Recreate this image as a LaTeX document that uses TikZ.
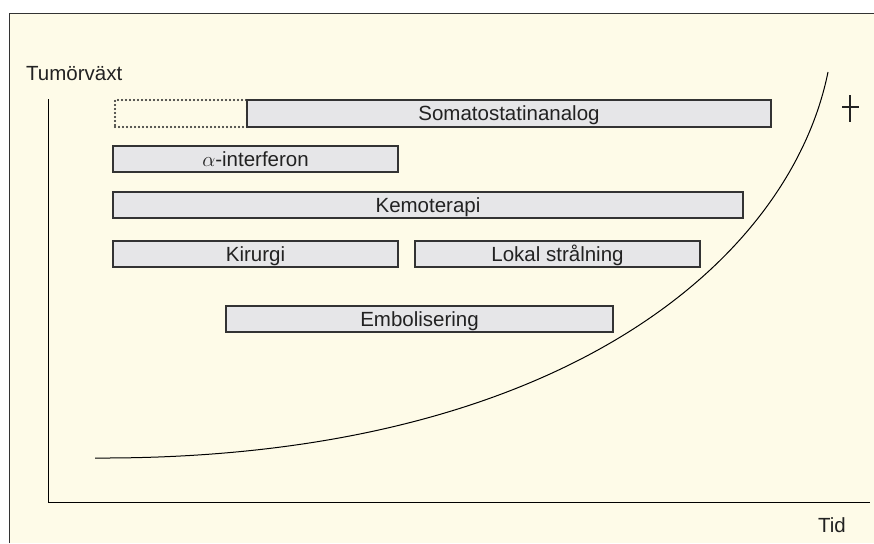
\documentclass[tikz,border=0pt]{standalone}
\usepackage{fontspec}
\setmainfont{Liberation Sans}
\definecolor{bgcream}{HTML}{FEFBE8}
\definecolor{boxgray}{HTML}{E6E6E8}
\definecolor{edge}{HTML}{333333}
\definecolor{ink}{HTML}{222222}
\begin{document}
\begin{tikzpicture}[x=1pt,y=-1pt,
  bar/.style={draw=edge,line width=1.3pt,fill=boxgray,inner sep=0pt,text=ink,text height=14.5pt,text depth=0pt,font=\fontsize{20.5}{23}\selectfont},
  lbl/.style={text=ink,font=\fontsize{20.5}{23}\selectfont,inner sep=0pt}]
\useasboundingbox (0,0) rectangle (874,543);
\fill[white] (0,0) rectangle (874,543);
\fill[bgcream] (9,14) rectangle (874,543);
\draw[edge,line width=1pt] (9,543) -- (9,14) -- (874,14);
% axes
\coordinate (ytop) at (48,99);
\coordinate (orig) at (48,502);
\coordinate (xend) at (870,502);
\draw[black,line width=1pt] (ytop) -- (orig) -- (xend);
\node[lbl,anchor=west] (ylab) at (26,74) {Tumörväxt};
\node[lbl,anchor=east] (xlab) at (846,525) {Tid};
% curve
\coordinate (c0) at (95,458);
\coordinate (c1) at (828,72);
\draw[black,line width=1pt] (c0) .. controls (560,460) and (790,260) .. (c1);
% dagger
\coordinate (dg1) at (850,95);
\coordinate (dg2) at (850,122);
\coordinate (dg3) at (842,107);
\coordinate (dg4) at (859,107);
\draw[ink,line width=1.6pt] (dg1) -- (dg2) (dg3) -- (dg4);
% boxes
\node[draw=ink,line width=2.4pt,line cap=round,dash pattern=on 0pt off 4pt,minimum width=132pt,minimum height=27pt,inner sep=0pt] (dot) at (181,113.5) {};
\node[bar,minimum width=524pt,minimum height=27pt] (soma) at (509,113.5) {Somatostatinanalog};
\node[bar,minimum width=285pt,minimum height=26pt] (alfa) at (255.5,159) {$\alpha$-interferon};
\node[bar,minimum width=630pt,minimum height=26pt] (kemo) at (428,205) {Kemoterapi};
\node[bar,minimum width=285pt,minimum height=26pt] (kir) at (255.5,254) {Kirurgi};
\node[bar,minimum width=285pt,minimum height=26pt] (lok) at (557.5,254) {Lokal strålning};
\node[bar,minimum width=387pt,minimum height=26pt] (emb) at (419.5,319) {Embolisering};
\end{tikzpicture}
\end{document}
